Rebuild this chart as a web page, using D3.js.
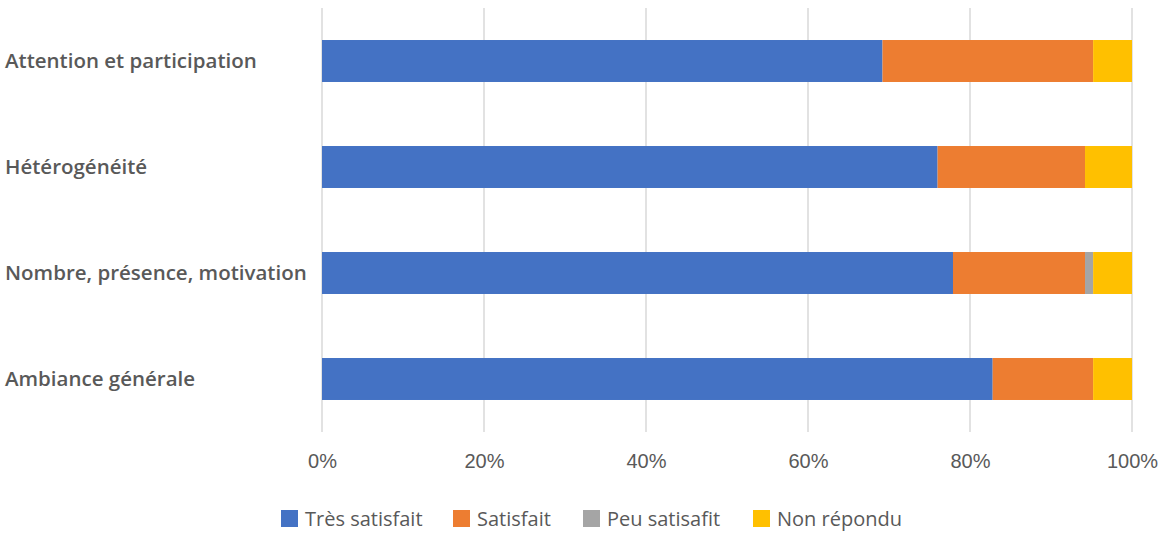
<!DOCTYPE html>
<html>
<head>
<meta charset="utf-8">
<script src="https://cdn.jsdelivr.net/npm/d3@7"></script>
<style>
    body { margin: 0; background: #fff; }
    svg { font-family: "Open Sans", "Noto Sans", sans-serif; }
</style>
</head>
<body>
<div id="chart"></div>
<script>
const categories = ["Attention et participation", "Hétérogénéité", "Nombre, présence, motivation", "Ambiance générale"];
const seriesNames = ["Très satisfait", "Satisfait", "Peu satisafit", "Non répondu"];
const tresSatisfait = [69.2, 76.0, 77.9, 82.8];
const satisfait = [26.0, 18.2, 16.3, 12.4];
const peuSatisfait = [0, 0, 1.0, 0];
const nonRepondu = [4.8, 5.8, 4.8, 4.8];
const tickValues = [0, 20, 40, 60, 80, 100];
const colors = ["#4472c4", "#ed7d31", "#a5a5a5", "#ffc000"];

const width = 1161;
const height = 534;
const margin = { top: 8, right: 29, bottom: 102, left: 322 };

const rows = categories.map((c, i) => ({
    category: c,
    "Très satisfait": tresSatisfait[i],
    "Satisfait": satisfait[i],
    "Peu satisafit": peuSatisfait[i],
    "Non répondu": nonRepondu[i]
}));

const stack = d3.stack().keys(seriesNames);
const layers = stack(rows);

const x = d3.scaleLinear()
    .domain([0, 100])
    .range([margin.left, width - margin.right]);

const y = d3.scaleBand()
    .domain(categories)
    .range([margin.top, height - margin.bottom])
    .paddingInner(0.604)
    .paddingOuter(0.302);

const color = d3.scaleOrdinal().domain(seriesNames).range(colors);

const svg = d3.select('#chart').append('svg')
    .attr('width', width)
    .attr('height', height);

// gridlines
svg.append('g')
    .selectAll('line')
    .data(tickValues)
    .enter().append('line')
    .attr('x1', d => x(d))
    .attr('x2', d => x(d))
    .attr('y1', margin.top)
    .attr('y2', height - margin.bottom)
    .attr('stroke', '#d9d9d9')
    .attr('stroke-width', 1.5);

// bars
svg.append('g')
    .selectAll('g')
    .data(layers)
    .enter().append('g')
    .attr('fill', d => color(d.key))
    .selectAll('rect')
    .data(d => d)
    .enter().append('rect')
    .attr('x', d => x(d[0]))
    .attr('y', d => y(d.data.category))
    .attr('width', d => x(d[1]) - x(d[0]))
    .attr('height', y.bandwidth());

// x axis labels
const xAxis = d3.axisBottom(x)
    .tickValues(tickValues)
    .tickFormat(d => d + '%')
    .tickSize(0)
    .tickPadding(22);

const xg = svg.append('g')
    .attr('transform', `translate(0,${height - margin.bottom})`)
    .call(xAxis);
xg.select('.domain').remove();
xg.selectAll('text')
    .attr('fill', '#595959')
    .style('font-size', '20px');

// category labels
svg.append('g')
    .selectAll('text')
    .data(categories)
    .enter().append('text')
    .attr('x', 5)
    .attr('y', d => y(d) + y.bandwidth() / 2)
    .attr('dy', '0.35em')
    .attr('fill', '#595959')
    .style('font-size', '20.5px')
    .style('font-weight', 600)
    .text(d => d);

// legend
const legendX = [281, 453, 583, 753];
const legend = svg.append('g')
    .selectAll('g')
    .data(seriesNames)
    .enter().append('g')
    .attr('transform', (d, i) => `translate(${legendX[i]},${510})`);

legend.append('rect')
    .attr('width', 17)
    .attr('height', 17)
    .attr('fill', d => color(d));

legend.append('text')
    .attr('x', 24)
    .attr('y', 9)
    .attr('dy', '0.35em')
    .attr('fill', '#595959')
    .style('font-size', '20px')
    .text(d => d);
</script>
</body>
</html>
